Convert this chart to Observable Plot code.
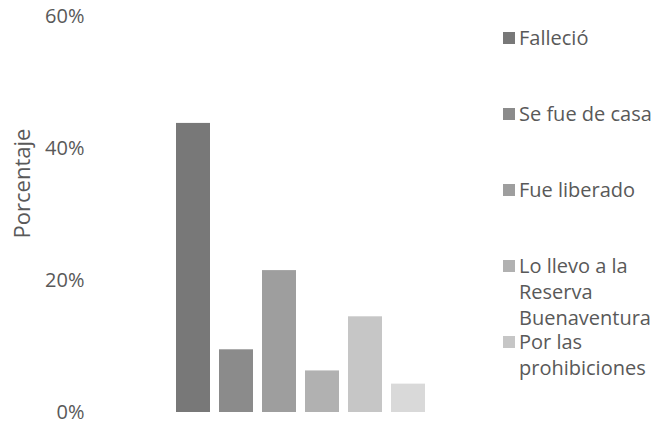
<!DOCTYPE html>
<html>
<head>
<meta charset="utf-8">
<script src="https://cdn.jsdelivr.net/npm/d3@7"></script>
<script src="https://cdn.jsdelivr.net/npm/@observablehq/plot@0.6"></script>
<style>
  html, body { margin: 0; padding: 0; background: #fff; }
  #wrap { position: relative; width: 659px; height: 424px; font-family: "Open Sans", sans-serif; color: #595959; }
  #legend { position: absolute; left: 0; top: 0; }
  .item { position: absolute; left: 503px; width: 156px; }
  .sw { position: absolute; left: 0; top: 7px; width: 12px; height: 12px; }
  .lbl { position: absolute; left: 16px; width: 140px; font-size: 20px; line-height: 26px; white-space: normal; }
</style>
</head>
<body>
<div id="wrap"><div id="legend"></div></div>
<script>
const categories = ["Falleció", "Se fue de casa", "Fue liberado", "Lo llevo a la Reserva Buenaventura", "Por las prohibiciones", "Otro"];
const values = [43.8, 9.5, 21.5, 6.3, 14.5, 4.3];
const colors = ["#787878", "#8b8b8b", "#9e9e9e", "#b1b1b1", "#c6c6c6", "#d9d9d9"];
const legendShown = ["Falleció", "Se fue de casa", "Fue liberado", "Lo llevo a la Reserva Buenaventura", "Por las prohibiciones"];
const yTicks = [0, 20, 40, 60];
const yTitle = "Porcentaje";

const data = categories.map((c, i) => ({ category: c, value: values[i] }));

const chart = Plot.plot({
  width: 659,
  height: 424,
  marginLeft: 175,
  marginRight: 232,
  marginTop: 16,
  marginBottom: 12,
  style: { fontFamily: "'Open Sans', sans-serif", fontSize: "20px", color: "#595959", background: "white" },
  x: { type: "band", domain: categories, paddingInner: 0.2, paddingOuter: 0, axis: null },
  y: { domain: [0, 60], ticks: yTicks, tickFormat: d => d + "%", tickSize: 0, tickPadding: 91, label: null },
  color: { domain: categories, range: colors },
  marks: [
    Plot.barY(data, { x: "category", y: "value", fill: "category" }),
    Plot.text([yTitle], { frameAnchor: "left", textAnchor: "middle", text: d => d, rotate: -90, dx: -153, dy: -31, fontSize: 22, fill: "#595959" })
  ]
});
document.getElementById("wrap").prepend(chart);

const legend = document.getElementById("legend");
legendShown.forEach((name, i) => {
  const item = document.createElement("div");
  item.className = "item";
  item.style.top = (25 + i * 76) + "px";
  const sw = document.createElement("div");
  sw.className = "sw";
  sw.style.background = colors[categories.indexOf(name)];
  const lbl = document.createElement("div");
  lbl.className = "lbl";
  lbl.textContent = name;
  item.appendChild(sw);
  item.appendChild(lbl);
  legend.appendChild(item);
});
</script>
</body>
</html>
